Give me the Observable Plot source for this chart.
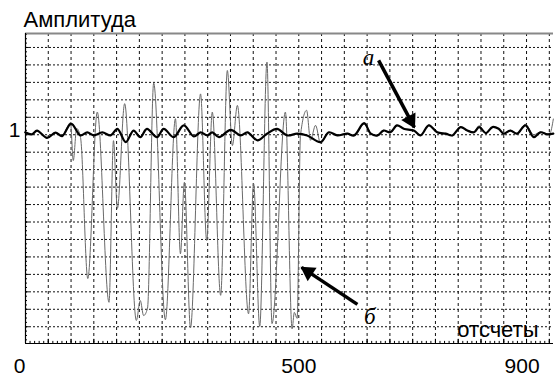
<!DOCTYPE html>
<html><head><meta charset="utf-8">
<script src="https://cdn.jsdelivr.net/npm/d3@7"></script>
<script src="https://cdn.jsdelivr.net/npm/@observablehq/plot@0.6"></script>
<style>body{margin:0;background:#fff} svg{display:block}</style>
</head><body><div id="chart"></div>
<script>
// Series а (reference, thick black)
const samplesA = [10,22,31,49,64,76,92,109,121,133,148,163,175,190,204,216,228,246,258,276,294,312,324,336,345,357,378,396,408,426,443,461,479,497,515,539,554,569,587,599,617,629,641,652,664,676,688,706,718,733,748,763,775,790,802,814,823,835,847,858,867,879,891,906,921,933,945,956];
const ampA = [1.007,1.001,1.012,0.991,1.006,0.996,1.032,0.998,1.007,0.998,1.007,0.998,1.017,0.979,1.012,0.993,1.017,0.993,1.017,0.993,1.027,0.995,1.007,0.998,1.007,0.993,1.014,0.998,1.007,0.984,1.003,1.017,0.998,1.003,0.998,0.979,1.007,0.998,1.003,0.998,1.033,1.003,0.998,1.012,1.007,1.027,1.017,1.012,0.998,1.027,1.007,1.003,0.998,1.022,1.012,1.007,1.022,1.005,1.022,1.017,1.003,1.012,1.003,1.027,0.993,1.007,1.001,1.003];
// Series б (thin grey)
const samplesB = [10,22,31,49,64,76,84,91,96,102,109,122,139,160,168,175,188,209,216,222,229,240,261,279,288,295,306,324,335,345,360,372,381,390,410,419,430,443,452,476,488,492,497,503,514,521,530,539,553,569,587,599,617,629,641,652,664,676,688,706,718,733,748,763,775,790,802,814,823,835,847,858,867,879,891,906,921,933,945,950,956];
const ampB = [1.007,1.001,1.012,0.991,1.006,0.996,1.018,1.035,0.926,1.018,0.992,0.588,1.065,0.520,0.983,0.789,1.089,0.468,0.525,0.482,0.503,1.148,0.470,1.046,0.659,0.864,0.447,1.117,0.697,1.065,0.540,1.184,0.969,1.084,0.487,0.860,0.451,1.208,0.459,1.065,0.444,0.491,0.474,0.998,1.070,0.984,1.027,0.975,1.006,0.999,1.004,0.997,1.030,1.004,0.997,1.013,1.006,1.026,1.018,1.011,0.999,1.028,1.006,1.004,0.997,1.023,1.011,1.008,1.026,1.004,1.021,1.018,1.001,1.013,1.002,1.030,1.000,1.008,1.003,1.005,1.045];
const xTickLabels = [0, 500, 900];
const yTickLabels = [1];
const yTitle = "Амплитуда";
const xTitle = "отсчеты";
const xTitlePos = [{s: 784, v: 0.420}];
const letters = [{t: "а", s: 625, v: 1.221}, {t: "б", s: 627, v: 0.479}];
const arrows = [{x1: 643, y1: 1.213, x2: 707, y2: 1.021}, {x1: 605, y1: 0.514, x2: 505, y2: 0.620}];

const xDomain = [10.4, 956.3];
const yDomain = [0.402, 1.290];
const W = 555, H = 376, ML = 25, MR = 2, MT = 33, MB = 33;

const seriesA = samplesA.map((s, i) => ({s, v: ampA[i]}));
const seriesB = samplesB.map((s, i) => ({s, v: ampB[i]}));

const xGrid = d3.range(-11, 12).map(k => 500 + 40.8 * k);
const xMinor = d3.range(-60, 57).map(k => 500 + 8.16 * k).filter(d => d > xDomain[0] && d < xDomain[1]);
const yGrid = d3.range(9, 26).map(k => +(k * 0.05).toFixed(3));
const yMinor = d3.range(33, 104).map(k => k * 0.0125).filter(d => d > yDomain[0] && d < yDomain[1]);

// arrowheads: filled triangles oriented along each arrow (computed through the same scales)
const sx = Plot.scale({x: {domain: xDomain, range: [ML, W - MR]}});
const sy = Plot.scale({y: {domain: yDomain, range: [H - MB, MT]}});
const heads = arrows.map(a => {
  const px1 = sx.apply(a.x1), py1 = sy.apply(a.y1), px2 = sx.apply(a.x2), py2 = sy.apply(a.y2);
  const dx = px2 - px1, dy = py2 - py1, len = Math.hypot(dx, dy);
  const cx = px2 - 8 * dx / len, cy = py2 - 8 * dy / len;
  return {x: sx.invert(cx), y: sy.invert(cy), rot: Math.atan2(dx, -dy) * 180 / Math.PI};
});

const font = "'Liberation Sans', Arial, sans-serif";

const chart = Plot.plot({
  width: W, height: H,
  marginLeft: ML, marginRight: MR, marginTop: MT, marginBottom: MB,
  x: {domain: xDomain, axis: null},
  y: {domain: yDomain, axis: null},
  style: {fontFamily: font, background: "#fff", overflow: "visible"},
  marks: [
    Plot.ruleX(xGrid, {x: d => d, stroke: "#111", strokeWidth: 1, strokeDasharray: "3,3"}),
    Plot.ruleY(yGrid, {y: d => d, stroke: "#111", strokeWidth: 1, strokeDasharray: "2,2"}),
    Plot.line(seriesB, {x: "s", y: "v", stroke: "#6a6a6a", strokeWidth: 1, curve: "monotone-x"}),
    Plot.line(seriesA, {x: "s", y: "v", stroke: "#000", strokeWidth: 2.2, curve: "catmull-rom"}),
    // ticks
    Plot.ruleX(xMinor, {x: d => d, y1: yDomain[0], y2: yDomain[0] + 0.006, stroke: "#000"}),
    Plot.ruleX(xGrid, {x: d => d, y1: yDomain[0], y2: yDomain[0] + 0.012, stroke: "#000"}),
    Plot.ruleY(yMinor, {y: d => d, x1: xDomain[0], x2: xDomain[0] + 3.6, stroke: "#000"}),
    Plot.ruleY(yGrid, {y: d => d, x1: xDomain[0], x2: xDomain[0] + 7, stroke: "#000"}),
    // frame
    Plot.ruleY([yDomain[1]], {stroke: "#888", strokeWidth: 2}),
    Plot.ruleX([xDomain[0]], {stroke: "#000", strokeWidth: 1.2}),
    Plot.ruleY([yDomain[0]], {stroke: "#000", strokeWidth: 1.2}),
    // arrows
    Plot.link(arrows, {x1: "x1", y1: "y1", x2: "x2", y2: "y2", stroke: "#000", strokeWidth: 3.5}),
    Plot.dot(heads, {x: "x", y: "y", rotate: "rot", symbol: "triangle", r: 6, fill: "#000", stroke: "none"}),
    // texts
    Plot.text(letters, {x: "s", y: "v", text: "t", fontFamily: "'Liberation Serif', 'Times New Roman', serif", fontStyle: "italic", fontSize: 23, fill: "#000"}),
    Plot.text(xTitlePos, {x: "s", y: "v", text: () => xTitle, textAnchor: "start", lineAnchor: "bottom", fontSize: 22, fill: "#000"}),
    Plot.text(xTickLabels, {x: d => d, frameAnchor: "bottom", dy: 29, lineAnchor: "bottom", text: d => String(d), fontSize: 21, fill: "#000"}),
    Plot.text(yTickLabels, {y: d => d, frameAnchor: "left", dx: -5, dy: -4, textAnchor: "end", text: d => String(d), fontSize: 21, fill: "#000"}),
    Plot.text([yTitle], {frameAnchor: "top-left", dx: -2, dy: -7, textAnchor: "start", lineAnchor: "bottom", text: d => d, fontSize: 22, fill: "#000"})
  ]
});
document.getElementById("chart").appendChild(chart);
</script>
</body></html>
